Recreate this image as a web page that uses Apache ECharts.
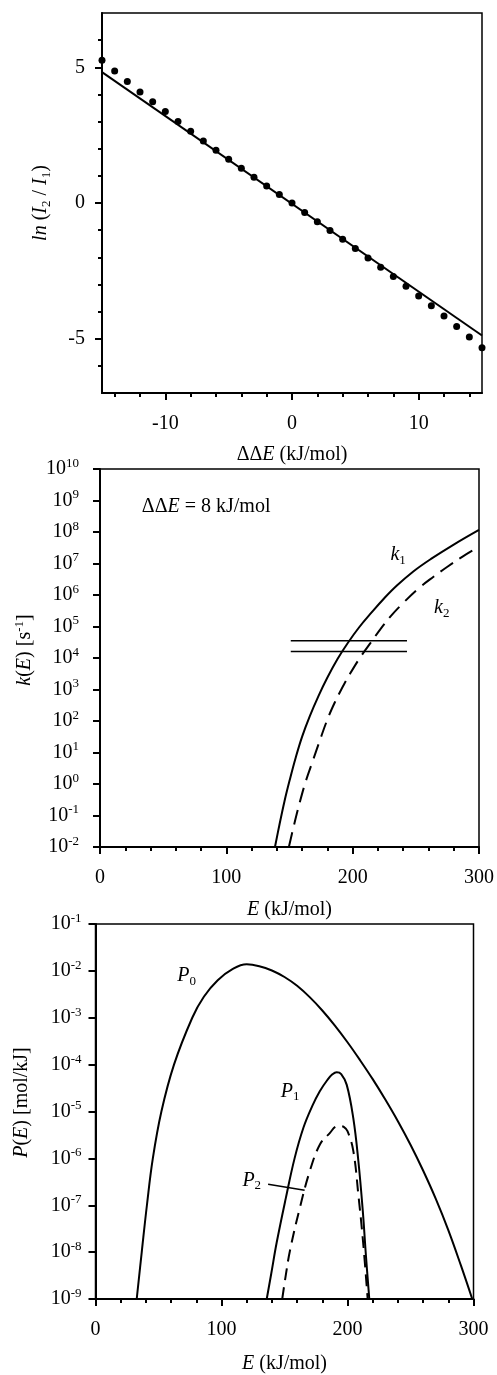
<!DOCTYPE html>
<html><head><meta charset="utf-8">
<script src="https://cdn.jsdelivr.net/npm/echarts@6/dist/echarts.min.js"></script>
<style>html,body{margin:0;padding:0;background:#fff}#c{width:497px;height:1375px}</style>
</head><body><div id="c"></div>
<script>
// ---- Panel 1: ln(I2/I1) vs ΔΔE ----
const dE = [-15,-14,-13,-12,-11,-10,-9,-8,-7,-6,-5,-4,-3,-2,-1,0,1,2,3,4,5,6,7,8,9,10,11,12,13,14,15];
const lnRatio = [5.26,4.86,4.48,4.09,3.73,3.37,3.00,2.64,2.28,1.94,1.61,1.28,0.95,0.63,0.31,0.0,-0.35,-0.69,-1.01,-1.34,-1.68,-2.03,-2.37,-2.71,-3.07,-3.43,-3.79,-4.16,-4.55,-4.94,-5.33];
const fitX = [-15, 15];
const fitY = [4.82, -4.88];
const p1XMinorTicks = [-14,-12,-10,-8,-6,-4,-2,0,2,4,6,8,10,12,14];
const p1XMajorTicks = [-10,0,10];
const p1YMinorTicks = [-6,-5,-4,-3,-2,-1,0,1,2,3,4,5,6];
const p1YMajorTicks = [-5,0,5];

// ---- Panel 2: k(E) ----
const k1E = [138.5,142,146,150,155,160,166,173,180,188,196,205,215,225,235,248,262,280,300];
const k1  = [1e-2,5e-2,0.28,1.26,7.1,32,141,630,2.4e3,9.3e3,2.95e4,9.3e4,2.8e5,7.9e5,2e6,5.6e6,1.4e7,4e7,1.17e8];
const k2E = [149.5,153,158,163,169,174,180,186,191,198,206,214,222,230,240,252,264,275,287,300];
const k2  = [1e-2,4e-2,0.25,1.26,6.3,24,112,400,1e3,3.2e3,1.05e4,2.95e4,8.3e4,2.1e5,5.6e5,1.6e6,3.8e6,7.9e6,1.66e7,3.4e7];
const barE = [151, 243];
const barK = [3.5e4, 1.6e4];
const kTicks = [1e-2,1e-1,1e0,1e1,1e2,1e3,1e4,1e5,1e6,1e7,1e8,1e9,1e10];

// ---- Panel 3: P(E) ----
const p0E = [32.7,36.7,40.8,45.5,52.3,62.3,76.8,86,97,109,120,130,140,150,160,170,180,190,200,210,220,230,240,250,260,270,280,290,299];
const p0  = [1e-9,1e-8,1e-7,1e-6,1e-5,1e-4,1e-3,2.8e-3,6.3e-3,1.1e-2,1.38e-2,1.26e-2,1.02e-2,7.4e-3,4.8e-3,2.75e-3,1.43e-3,6.8e-4,3e-4,1.24e-4,4.9e-5,1.8e-5,6.2e-6,1.95e-6,5.5e-7,1.38e-7,2.95e-8,5.2e-9,1e-9];
const p1E = [135.9,139.5,143.8,151,158,165,172,178,184,188,191.4,195,199.4,204.6,208.6,212.1,214.7,217.3];
const p1  = [1e-9,3.5e-9,1.6e-8,1.4e-7,1e-6,4.5e-6,1.3e-5,2.7e-5,4.7e-5,6.2e-5,6.9e-5,6.3e-5,3.7e-5,7.2e-6,8.9e-7,7.8e-8,7.9e-9,1e-9];
const p2E = [148.2,151,154.4,162.3,170.2,178.2,186.1,191,194,197,200,204.6,208.6,212.5,216];
const p2  = [1e-9,3.2e-9,1.1e-8,9.1e-8,5.5e-7,2e-6,3.5e-6,4.8e-6,4.9e-6,4.7e-6,3.8e-6,1.45e-6,1.7e-7,1.5e-8,1e-9];
const p2LeaderE = [137, 166];
const p2LeaderP = [2.8e-7, 2.1e-7];
const pTicks = [1e-9,1e-8,1e-7,1e-6,1e-5,1e-4,1e-3,1e-2,1e-1];

// annotation anchors (data coordinates)
const k1Label = [236, 1.9e7], k2Label = [270.5, 3.8e5], ddeLabel = [84, 6.2e8];
const P0Label = [72.4, 7.8e-3], P1Label = [154.4, 2.7e-5], P2Label = [124, 3.4e-7];

const FF = '"Liberation Serif", "Times New Roman", serif';
const FS = 20;
const rich = {
  r:   {fontFamily: FF, fontSize: FS, color: '#000', lineHeight: 24},
  i:   {fontFamily: FF, fontSize: FS, color: '#000', fontStyle: 'italic', lineHeight: 24},
  sup: {fontFamily: FF, fontSize: 13, color: '#000', lineHeight: 13, verticalAlign: 'top'},
  sub: {fontFamily: FF, fontSize: 13, color: '#000', lineHeight: 12, verticalAlign: 'bottom'}
};
const zip = (a, b) => a.map((v, i) => [v, b[i]]);
const black = {color: '#000', width: 2};
const axisLn = {onZero: false, lineStyle: black};
const labelBase = {fontFamily: FF, fontSize: FS, color: '#000', rich: rich};
const pow10 = v => { const e = Math.round(Math.log10(v)); return '{r|10}{sup|' + (e < 0 ? '-' + (-e) : e) + '}'; };

const grids = [
  {left: 102, top: 13, width: 380, height: 380},
  {left: 100, top: 469, width: 379, height: 378},
  {left: 95.5, top: 924, width: 378, height: 379}
].map(g => Object.assign({show: true, borderColor: '#000', borderWidth: 1.5, backgroundColor: 'transparent', containLabel: false}, g));

const xAxis = [
  {gridIndex: 0, type: 'value', min: -15, max: 15, position: 'bottom',
   axisLine: axisLn, splitLine: {show: false},
   axisTick: {customValues: p1XMinorTicks, length: 4, lineStyle: black},
   axisLabel: {show: false}},
  {gridIndex: 0, type: 'value', min: -15, max: 15, position: 'bottom',
   axisLine: {show: false, onZero: false}, splitLine: {show: false},
   axisTick: {customValues: p1XMajorTicks, length: 7, lineStyle: black},
   axisLabel: Object.assign({customValues: p1XMajorTicks, margin: 21}, labelBase),
   name: '{r|ΔΔ}{i|E}{r| (kJ/mol)}', nameLocation: 'middle', nameGap: 50, nameTextStyle: labelBase},
  {gridIndex: 1, type: 'value', min: 0, max: 300, interval: 100, position: 'bottom',
   axisLine: axisLn, splitLine: {show: false},
   axisTick: {length: 7, lineStyle: black},
   minorTick: {show: true, splitNumber: 5, length: 4, lineStyle: black},
   axisLabel: Object.assign({margin: 21}, labelBase),
   name: '{i|E}{r| (kJ/mol)}', nameLocation: 'middle', nameGap: 51, nameTextStyle: labelBase},
  {gridIndex: 2, type: 'value', min: 0, max: 300, interval: 100, position: 'bottom',
   axisLine: axisLn, splitLine: {show: false},
   axisTick: {length: 7, lineStyle: black},
   minorTick: {show: true, splitNumber: 5, length: 4, lineStyle: black},
   axisLabel: Object.assign({margin: 21}, labelBase),
   name: '{i|E}{r| (kJ/mol)}', nameLocation: 'middle', nameGap: 53, nameTextStyle: labelBase}
];
const yAxis = [
  {gridIndex: 0, type: 'value', min: -7, max: 7, position: 'left',
   axisLine: axisLn, splitLine: {show: false},
   axisTick: {customValues: p1YMinorTicks, length: 4, lineStyle: black},
   axisLabel: {show: false}},
  {gridIndex: 0, type: 'value', min: -7, max: 7, position: 'left',
   axisLine: {show: false, onZero: false}, splitLine: {show: false},
   axisTick: {customValues: p1YMajorTicks, length: 7, lineStyle: black},
   axisLabel: Object.assign({customValues: p1YMajorTicks, margin: 17}, labelBase),
   name: '{i|ln} ({i|I}{sub|2} / {i|I}{sub|1})', nameLocation: 'middle', nameGap: 49, nameRotate: 90, nameTextStyle: labelBase},
  {gridIndex: 1, type: 'log', logBase: 10, min: 1e-2, max: 1e10, position: 'left',
   axisLine: axisLn, splitLine: {show: false},
   axisTick: {customValues: kTicks, length: 7, lineStyle: black},
   axisLabel: Object.assign({customValues: kTicks, margin: 21, formatter: pow10}, labelBase),
   name: '{i|k}{r|(}{i|E}{r|) [s}{sup|-1}{r|]}', nameLocation: 'middle', nameGap: 63, nameRotate: 90,
   nameTextStyle: Object.assign({padding: [0, 0, 0, 16]}, labelBase)},
  {gridIndex: 2, type: 'log', logBase: 10, min: 1e-9, max: 1e-1, position: 'left',
   axisLine: axisLn, splitLine: {show: false},
   axisTick: {customValues: pTicks, length: 7, lineStyle: black},
   axisLabel: Object.assign({customValues: pTicks, margin: 14, formatter: pow10}, labelBase),
   name: '{i|P}{r|(}{i|E}{r|) [mol/kJ]}', nameLocation: 'middle', nameGap: 62, nameRotate: 90,
   nameTextStyle: Object.assign({padding: [0, 0, 0, 18]}, labelBase)}
];

const lineS = (xi, yi, data, dash) => ({
  type: 'line', xAxisIndex: xi, yAxisIndex: yi, data: data, showSymbol: false, symbol: 'none',
  smooth: 0.4, silent: true, animation: false,
  lineStyle: {color: '#000', width: 2, type: dash || 'solid'}
});
const textS = (xi, yi, pt, txt) => ({
  type: 'scatter', xAxisIndex: xi, yAxisIndex: yi, data: [pt], symbolSize: 0, silent: true, animation: false,
  itemStyle: {opacity: 1},
  label: {show: true, position: 'inside', formatter: txt, fontFamily: FF, fontSize: FS, color: '#000', opacity: 1, rich: rich}
});

const series = [
  {type: 'line', xAxisIndex: 0, yAxisIndex: 0, data: zip(fitX, fitY), showSymbol: false, symbol: 'none',
   lineStyle: {color: '#000', width: 2}, animation: false, silent: true},
  {type: 'scatter', xAxisIndex: 0, yAxisIndex: 0, data: zip(dE, lnRatio), symbol: 'circle', symbolSize: 7,
   itemStyle: {color: '#000', opacity: 1}, animation: false, silent: true},

  lineS(2, 2, zip(k1E, k1)),
  lineS(2, 2, zip(k2E, k2), [15, 8]),
  {type: 'line', xAxisIndex: 2, yAxisIndex: 2, data: zip(barE, [barK[0], barK[0]]), symbol: 'none',
   lineStyle: {color: '#000', width: 1.5}, animation: false, silent: true},
  {type: 'line', xAxisIndex: 2, yAxisIndex: 2, data: zip(barE, [barK[1], barK[1]]), symbol: 'none',
   lineStyle: {color: '#000', width: 1.5}, animation: false, silent: true},
  textS(2, 2, k1Label, '{i|k}{sub|1}'),
  textS(2, 2, k2Label, '{i|k}{sub|2}'),
  textS(2, 2, ddeLabel, '{r|ΔΔ}{i|E}{r| = 8 kJ/mol}'),

  lineS(3, 3, zip(p0E, p0)),
  lineS(3, 3, zip(p1E, p1)),
  lineS(3, 3, zip(p2E, p2), [12, 7]),
  {type: 'line', xAxisIndex: 3, yAxisIndex: 3, data: zip(p2LeaderE, p2LeaderP), symbol: 'none',
   lineStyle: {color: '#000', width: 1.5}, animation: false, silent: true},
  textS(3, 3, P0Label, '{i|P}{sub|0}'),
  textS(3, 3, P1Label, '{i|P}{sub|1}'),
  textS(3, 3, P2Label, '{i|P}{sub|2}')
];

const chart = echarts.init(document.getElementById('c'), null, {renderer: 'canvas'});
chart.setOption({animation: false, backgroundColor: '#fff', grid: grids, xAxis: xAxis, yAxis: yAxis, series: series});
</script>
</body></html>
